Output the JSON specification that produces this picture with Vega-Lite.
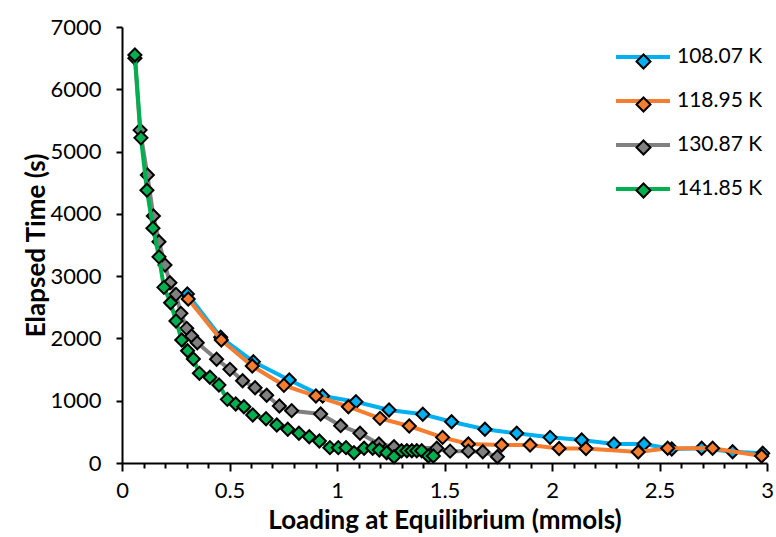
{
  "$schema": "https://vega.github.io/schema/vega-lite/v6.json",
  "width": 645,
  "height": 436,
  "autosize": {"type": "none"},
  "padding": {"left": 122, "top": 27, "right": 9, "bottom": 74},
  "background": "white",
  "config": {
    "view": {"stroke": null},
    "font": "Lato",
    "axis": {
      "domainColor": "black",
      "domainWidth": 2,
      "tickColor": "black",
      "tickWidth": 2,
      "grid": false,
      "labelFont": "Lato",
      "labelFontSize": 22,
      "labelColor": "black",
      "titleFont": "Lato",
      "titleFontSize": 26,
      "titleFontWeight": "bold",
      "titleColor": "black"
    }
  },
  "data": {
    "values": [
      {"T": "108.07 K", "x": 0.304, "y": 2713},
      {"T": "108.07 K", "x": 0.459, "y": 2018},
      {"T": "108.07 K", "x": 0.611, "y": 1626},
      {"T": "108.07 K", "x": 0.778, "y": 1332},
      {"T": "108.07 K", "x": 0.933, "y": 1075},
      {"T": "108.07 K", "x": 1.088, "y": 984},
      {"T": "108.07 K", "x": 1.242, "y": 851},
      {"T": "108.07 K", "x": 1.399, "y": 782},
      {"T": "108.07 K", "x": 1.533, "y": 663},
      {"T": "108.07 K", "x": 1.688, "y": 541},
      {"T": "108.07 K", "x": 1.836, "y": 477},
      {"T": "108.07 K", "x": 1.991, "y": 412},
      {"T": "108.07 K", "x": 2.138, "y": 369},
      {"T": "108.07 K", "x": 2.288, "y": 305},
      {"T": "108.07 K", "x": 2.428, "y": 305},
      {"T": "108.07 K", "x": 2.557, "y": 225},
      {"T": "108.07 K", "x": 2.696, "y": 236},
      {"T": "108.07 K", "x": 2.84, "y": 181},
      {"T": "108.07 K", "x": 2.98, "y": 156},
      {"T": "118.95 K", "x": 0.308, "y": 2633},
      {"T": "118.95 K", "x": 0.462, "y": 1975},
      {"T": "118.95 K", "x": 0.606, "y": 1557},
      {"T": "118.95 K", "x": 0.753, "y": 1247},
      {"T": "118.95 K", "x": 0.902, "y": 1075},
      {"T": "118.95 K", "x": 1.053, "y": 904},
      {"T": "118.95 K", "x": 1.2, "y": 717},
      {"T": "118.95 K", "x": 1.336, "y": 594},
      {"T": "118.95 K", "x": 1.491, "y": 412},
      {"T": "118.95 K", "x": 1.611, "y": 305},
      {"T": "118.95 K", "x": 1.766, "y": 289},
      {"T": "118.95 K", "x": 1.898, "y": 289},
      {"T": "118.95 K", "x": 2.033, "y": 233},
      {"T": "118.95 K", "x": 2.158, "y": 233},
      {"T": "118.95 K", "x": 2.401, "y": 177},
      {"T": "118.95 K", "x": 2.538, "y": 236},
      {"T": "118.95 K", "x": 2.747, "y": 236},
      {"T": "118.95 K", "x": 2.975, "y": 112},
      {"T": "130.87 K", "x": 0.06, "y": 6500},
      {"T": "130.87 K", "x": 0.084, "y": 5345},
      {"T": "130.87 K", "x": 0.118, "y": 4623},
      {"T": "130.87 K", "x": 0.146, "y": 3965},
      {"T": "130.87 K", "x": 0.172, "y": 3553},
      {"T": "130.87 K", "x": 0.2, "y": 3178},
      {"T": "130.87 K", "x": 0.223, "y": 2894},
      {"T": "130.87 K", "x": 0.251, "y": 2708},
      {"T": "130.87 K", "x": 0.274, "y": 2403},
      {"T": "130.87 K", "x": 0.301, "y": 2162},
      {"T": "130.87 K", "x": 0.324, "y": 2039},
      {"T": "130.87 K", "x": 0.35, "y": 1931},
      {"T": "130.87 K", "x": 0.44, "y": 1665},
      {"T": "130.87 K", "x": 0.502, "y": 1504},
      {"T": "130.87 K", "x": 0.561, "y": 1321},
      {"T": "130.87 K", "x": 0.619, "y": 1209},
      {"T": "130.87 K", "x": 0.673, "y": 1087},
      {"T": "130.87 K", "x": 0.732, "y": 915},
      {"T": "130.87 K", "x": 0.789, "y": 840},
      {"T": "130.87 K", "x": 0.924, "y": 787},
      {"T": "130.87 K", "x": 1.017, "y": 599},
      {"T": "130.87 K", "x": 1.107, "y": 477},
      {"T": "130.87 K", "x": 1.195, "y": 305},
      {"T": "130.87 K", "x": 1.265, "y": 260},
      {"T": "130.87 K", "x": 1.464, "y": 236},
      {"T": "130.87 K", "x": 1.526, "y": 190},
      {"T": "130.87 K", "x": 1.611, "y": 190},
      {"T": "130.87 K", "x": 1.678, "y": 180},
      {"T": "130.87 K", "x": 1.746, "y": 101},
      {"T": "141.85 K", "x": 0.06, "y": 6550},
      {"T": "141.85 K", "x": 0.088, "y": 5220},
      {"T": "141.85 K", "x": 0.116, "y": 4380},
      {"T": "141.85 K", "x": 0.144, "y": 3770},
      {"T": "141.85 K", "x": 0.172, "y": 3310},
      {"T": "141.85 K", "x": 0.195, "y": 2820},
      {"T": "141.85 K", "x": 0.226, "y": 2573},
      {"T": "141.85 K", "x": 0.251, "y": 2280},
      {"T": "141.85 K", "x": 0.278, "y": 1975},
      {"T": "141.85 K", "x": 0.305, "y": 1803},
      {"T": "141.85 K", "x": 0.332, "y": 1670},
      {"T": "141.85 K", "x": 0.36, "y": 1440},
      {"T": "141.85 K", "x": 0.409, "y": 1376},
      {"T": "141.85 K", "x": 0.451, "y": 1252},
      {"T": "141.85 K", "x": 0.49, "y": 1022},
      {"T": "141.85 K", "x": 0.529, "y": 947},
      {"T": "141.85 K", "x": 0.567, "y": 904},
      {"T": "141.85 K", "x": 0.608, "y": 771},
      {"T": "141.85 K", "x": 0.67, "y": 711},
      {"T": "141.85 K", "x": 0.72, "y": 610},
      {"T": "141.85 K", "x": 0.771, "y": 541},
      {"T": "141.85 K", "x": 0.823, "y": 477},
      {"T": "141.85 K", "x": 0.871, "y": 422},
      {"T": "141.85 K", "x": 0.918, "y": 353},
      {"T": "141.85 K", "x": 0.967, "y": 246},
      {"T": "141.85 K", "x": 1.006, "y": 246},
      {"T": "141.85 K", "x": 1.042, "y": 246},
      {"T": "141.85 K", "x": 1.079, "y": 165},
      {"T": "141.85 K", "x": 1.126, "y": 236},
      {"T": "141.85 K", "x": 1.166, "y": 236},
      {"T": "141.85 K", "x": 1.197, "y": 209},
      {"T": "141.85 K", "x": 1.231, "y": 165},
      {"T": "141.85 K", "x": 1.265, "y": 101},
      {"T": "141.85 K", "x": 1.3, "y": 197},
      {"T": "141.85 K", "x": 1.325, "y": 197},
      {"T": "141.85 K", "x": 1.348, "y": 197},
      {"T": "141.85 K", "x": 1.371, "y": 197},
      {"T": "141.85 K", "x": 1.394, "y": 197},
      {"T": "141.85 K", "x": 1.425, "y": 112},
      {"T": "141.85 K", "x": 1.448, "y": 112}
    ]
  },
  "encoding": {
    "x": {
      "field": "x", "type": "quantitative",
      "scale": {"domain": [0, 3], "nice": false, "zero": false},
      "axis": {
        "title": "Loading at Equilibrium (mmols)",
        "values": [0, 0.1, 0.2, 0.3, 0.4, 0.5, 0.6, 0.7, 0.8, 0.9, 1, 1.1, 1.2, 1.3, 1.4, 1.5, 1.6, 1.7, 1.8, 1.9, 2, 2.1, 2.2, 2.3, 2.4, 2.5, 2.6, 2.7, 2.8, 2.9, 3],
        "format": ".1~f",
        "labelExpr": "round(datum.value*10) % 5 == 0 ? datum.label : ''",
        "labelOverlap": false,
        "labelFlush": false,
        "tickSize": {"condition": {"test": "round(datum.value*10) % 5 == 0", "value": 8}, "value": 5},
        "labelPadding": 9,
        "titlePadding": 6
      }
    },
    "y": {
      "field": "y", "type": "quantitative",
      "scale": {"domain": [0, 7000], "nice": false},
      "axis": {
        "title": "Elapsed Time (s)",
        "values": [0, 1000, 2000, 3000, 4000, 5000, 6000, 7000],
        "format": "d",
        "tickSize": 6,
        "labelPadding": 15,
        "titlePadding": 0,
        "labelFlush": false
      }
    }
  },
  "layer": [
    {
      "transform": [{"filter": "datum.T == '108.07 K'"}],
      "mark": {"type": "line", "strokeWidth": 4},
      "encoding": {"stroke": {"field": "T", "type": "nominal", "scale": {"range": ["#00B0F0", "#F47D2F", "#808080", "#00B050"]}, "legend": {"title": null, "orient": "none", "legendX": 492, "legendY": 1, "symbolType": "stroke", "symbolSize": 2916, "symbolStrokeWidth": 4, "labelFont": "Lato", "labelFontSize": 21, "labelColor": "black", "labelOffset": 5, "rowPadding": 5}}}
    },
    {
      "transform": [{"filter": "datum.T == '108.07 K'"}],
      "mark": {"type": "point", "shape": "diamond", "filled": true, "stroke": "black", "strokeWidth": 2, "size": 170, "opacity": 1},
      "encoding": {"fill": {"field": "T", "type": "nominal", "scale": {"domain": ["108.07 K", "118.95 K", "130.87 K", "141.85 K"], "range": ["#00B0F0", "#F47D2F", "#808080", "#00B050"]}, "legend": {"title": null, "orient": "none", "legendX": 512, "legendY": 25, "symbolType": "diamond", "symbolSize": 196, "symbolStrokeColor": "black", "symbolStrokeWidth": 2, "labelExpr": "''", "labelFontSize": 19, "labelOpacity": 0, "labelOffset": 0, "rowPadding": 20}}}
    },
    {
      "transform": [{"filter": "datum.T == '118.95 K'"}],
      "mark": {"type": "line", "strokeWidth": 4},
      "encoding": {"stroke": {"field": "T", "type": "nominal"}}
    },
    {
      "transform": [{"filter": "datum.T == '118.95 K'"}],
      "mark": {"type": "point", "shape": "diamond", "filled": true, "stroke": "black", "strokeWidth": 2, "size": 170, "opacity": 1},
      "encoding": {"fill": {"field": "T", "type": "nominal"}}
    },
    {
      "transform": [{"filter": "datum.T == '130.87 K'"}],
      "mark": {"type": "line", "strokeWidth": 4},
      "encoding": {"stroke": {"field": "T", "type": "nominal"}}
    },
    {
      "transform": [{"filter": "datum.T == '130.87 K'"}],
      "mark": {"type": "point", "shape": "diamond", "filled": true, "stroke": "black", "strokeWidth": 2, "size": 170, "opacity": 1},
      "encoding": {"fill": {"field": "T", "type": "nominal"}}
    },
    {
      "transform": [{"filter": "datum.T == '141.85 K'"}],
      "mark": {"type": "line", "strokeWidth": 4},
      "encoding": {"stroke": {"field": "T", "type": "nominal"}}
    },
    {
      "transform": [{"filter": "datum.T == '141.85 K'"}],
      "mark": {"type": "point", "shape": "diamond", "filled": true, "stroke": "black", "strokeWidth": 2, "size": 170, "opacity": 1},
      "encoding": {"fill": {"field": "T", "type": "nominal"}}
    }
  ]
}
